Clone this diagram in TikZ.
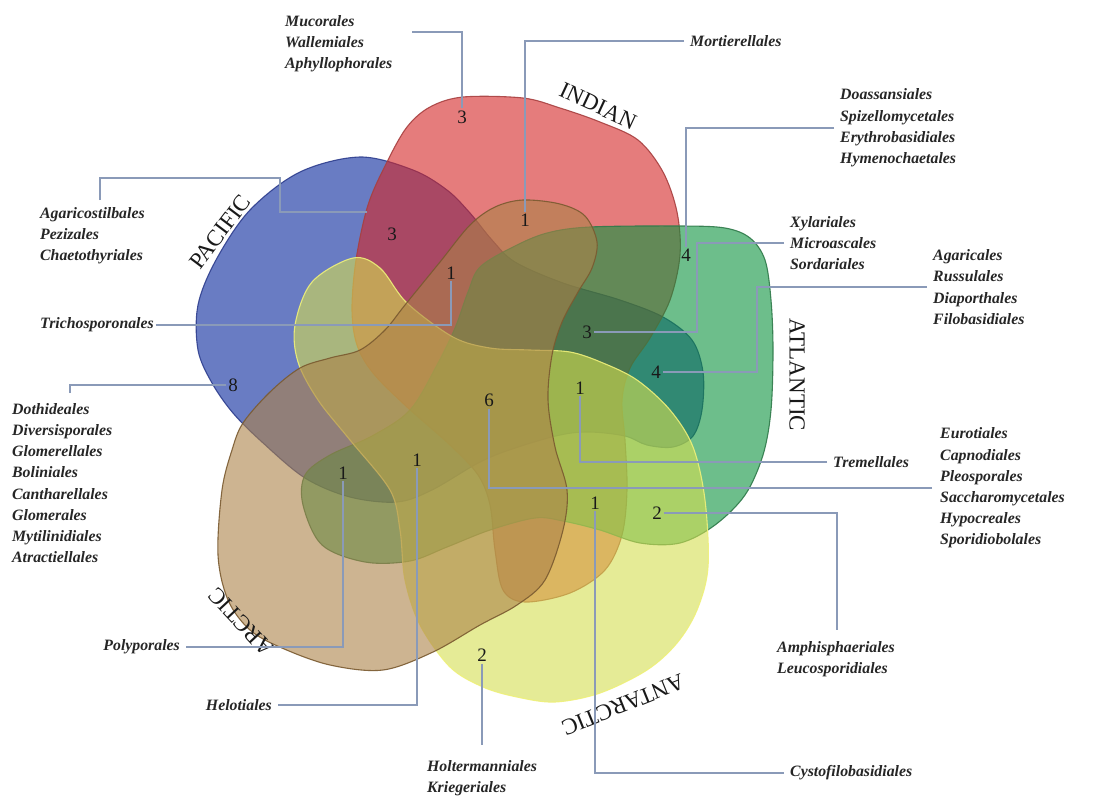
\documentclass[tikz,border=0pt]{standalone}
\usepackage{fontspec}
\setmainfont{Liberation Serif}
\definecolor{pacF}{HTML}{05269B}
\definecolor{pacD}{HTML}{2E3E8E}
\definecolor{indF}{HTML}{D52626}
\definecolor{indD}{HTML}{A84040}
\definecolor{atlF}{HTML}{0D933F}
\definecolor{atlD}{HTML}{2F7A4A}
\definecolor{antF}{HTML}{D5DE50}
\definecolor{antD}{HTML}{EEF07A}
\definecolor{arcF}{HTML}{AC8248}
\definecolor{arcD}{HTML}{7A5A30}
\definecolor{leadc}{HTML}{8A9AB8}
\begin{document}
\begin{tikzpicture}[x=1pt,y=-1pt,
  setshape/.style={fill opacity=0.6, draw opacity=0.9, line width=1.1pt},
  leader/.style={draw=leadc, line width=1.2pt},
  taxa/.style={font=\fontsize{15.8}{21.2}\selectfont\bfseries\itshape, align=left, inner sep=0pt, text=black!85},
  num/.style={font=\fontsize{19}{19}\selectfont, inner sep=2pt, text=black!90},
  ocean/.style={font=\fontsize{23}{23}\selectfont, inner sep=0pt, text=black!90}
]
\useasboundingbox (0,0) rectangle (1107,796);
\fill[white] (0,0) rectangle (1107,796);

% PACIFIC
\draw[setshape, fill=pacF, draw=pacD] plot[smooth cycle, tension=0.55] coordinates {
(360,157) (413,170) (447,190) (470,213) (492,240) (515,262) (563,283) (620,300) (663,317) (692,340) (703,372) (702,410) (693,436) (673,447) (647,445) (625,436) (590,432) (560,435) (515,448) (480,462) (432,490) (397,502) (350,497) (305,478) (262,442) (233,413) (212,383) (198,350) (198,305) (216,260) (250,210) (300,172)};
% INDIAN
\draw[setshape, fill=indF, draw=indD] plot[smooth cycle, tension=0.55] coordinates {
(463,97) (523,98) (560,108) (600,122) (638,140) (663,172) (677,212) (680,255) (670,300) (650,338) (630,368) (622,400) (625,440) (627,490) (622,535) (605,570) (570,593) (525,602) (503,590) (495,550) (490,505) (478,475) (450,445) (407,407) (373,373) (357,345) (352,310) (356,260) (368,205) (387,162) (407,127) (430,107)};
% ATLANTIC
\draw[setshape, fill=atlF, draw=atlD] plot[smooth cycle, tension=0.55] coordinates {
(480,267) (513,247) (547,233) (590,227) (680,226) (725,228) (750,238) (765,260) (771,300) (773,350) (771,410) (763,455) (745,495) (715,525) (680,543) (640,543) (600,530) (563,521) (535,518) (490,530) (447,547) (410,561) (365,562) (322,545) (303,505) (305,475) (330,455) (372,436) (410,410) (437,365) (455,328) (468,292)};
% ANTARCTIC
\draw[setshape, fill=antF, draw=antD] plot[smooth cycle, tension=0.55] coordinates {
(353,258) (380,268) (407,303) (453,337) (490,348) (530,350) (570,352) (603,363) (637,380) (670,410) (693,447) (705,500) (708,567) (697,610) (677,643) (647,670) (600,693) (555,702) (517,697) (483,687) (450,667) (420,625) (405,580) (400,530) (390,490) (350,440) (318,400) (298,362) (295,325) (312,282)};
% ARCTIC
\draw[setshape, fill=arcF, draw=arcD] plot[smooth cycle, tension=0.55] coordinates {
(243,423) (270,392) (300,368) (330,358) (360,350) (385,330) (405,305) (440,262) (470,225) (495,207) (523,200) (560,204) (585,216) (597,242) (592,268) (578,292) (562,322) (552,355) (548,400) (555,447) (567,490) (563,530) (545,580) (517,605) (480,625) (433,652) (383,670) (330,665) (282,648) (250,630) (228,600) (218,555) (222,490) (232,450)};

% set labels
\node[ocean, rotate=53] (lPac) at (220,232) {PACIFIC};
\node[ocean, rotate=-25] (lInd) at (598,106) {INDIAN};
\node[ocean, rotate=-90] (lAtl) at (797,375) {ATLANTIC};
\node[ocean, rotate=202] (lAnt) at (623,705) {ANTARCTIC};
\node[ocean, rotate=133] (lArc) at (241,622) {ARCTIC};

% numbers
\node[num] (nA) at (462,117) {3};
\node[num] (nB) at (525,220) {1};
\node[num] (nC) at (392,234) {3};
\node[num] (nD) at (451,273) {1};
\node[num] (nE) at (686,255) {4};
\node[num] (nF) at (587,332) {3};
\node[num] (nG) at (656,372) {4};
\node[num] (nH) at (580,388) {1};
\node[num] (nI) at (489,400) {6};
\node[num] (nJ) at (233,385) {8};
\node[num] (nK) at (343,473) {1};
\node[num] (nL) at (417,460) {1};
\node[num] (nM) at (595,503) {1};
\node[num] (nN) at (657,513) {2};
\node[num] (nO) at (482,655) {2};

% taxa texts
\node[taxa, anchor=west] (tMuc) at (285,44) {Mucorales\\Wallemiales\\Aphyllophorales};
\node[taxa, anchor=west] (tMort) at (690,41) {Mortierellales};
\node[taxa, anchor=west] (tDoa) at (840,128) {Doassansiales\\Spizellomycetales\\Erythrobasidiales\\Hymenochaetales};
\node[taxa, anchor=west] (tXyl) at (790,243) {Xylariales\\Microascales\\Sordariales};
\node[taxa, anchor=west] (tAga) at (933,287) {Agaricales\\Russulales\\Diaporthales\\Filobasidiales};
\node[taxa, anchor=west] (tTrem) at (833,462) {Tremellales};
\node[taxa, anchor=west] (tEuro) at (940,488) {Eurotiales\\Capnodiales\\Pleosporales\\Saccharomycetales\\Hypocreales\\Sporidiobolales};
\node[taxa, anchor=west] (tAmph) at (777,659) {Amphisphaeriales\\Leucosporidiales};
\node[taxa, anchor=west] (tCyst) at (790,773) {Cystofilobasidiales};
\node[taxa, anchor=west] (tHolt) at (427,778) {Holtermanniales\\Kriegeriales};
\node[taxa, anchor=east] (tHelo) at (272,705) {Helotiales};
\node[taxa, anchor=east] (tPoly) at (180,647) {Polyporales};
\node[taxa, anchor=west] (tDoth) at (12,483) {Dothideales\\Diversisporales\\Glomerellales\\Boliniales\\Cantharellales\\Glomerales\\Mytilinidiales\\Atractiellales};
\node[taxa, anchor=west] (tTrich) at (40,325) {Trichosporonales};
\node[taxa, anchor=west] (tAgac) at (40,236) {Agaricostilbales\\Pezizales\\Chaetothyriales};

% leader coordinates
\coordinate (cMuc) at (412,32);
\coordinate (cXyl) at (697,243);
\coordinate (cAga) at (757,287);
\coordinate (cAmph) at (837,630);
\coordinate (cHolt) at (482,745);
\coordinate (cDoth) at (70,393);
\coordinate (cAg1) at (100,200);
\coordinate (cAg2) at (280,178);
\coordinate (cAg3) at (367,212);

% leaders
\draw[leader] (cMuc) -| (nA.north);
\draw[leader] ([xshift=-6pt]tMort.west) -| (nB.north);
\draw[leader] ([xshift=-6pt]tDoa.west) -| (nE.north);
\draw[leader] ([xshift=-6pt]tXyl.west) -- (cXyl) |- (nF.east);
\draw[leader] ([xshift=-6pt]tAga.west) -- (cAga) |- (nG.east);
\draw[leader] ([xshift=-6pt]tTrem.west) -| (nH.south);
\draw[leader] ([xshift=-8pt]tEuro.west) -| (nI.south);
\draw[leader] (nN.east) -| (cAmph);
\draw[leader] (nM.south) |- ([xshift=-6pt]tCyst.west);
\draw[leader] (nO.south) -- (cHolt);
\draw[leader] (nL.south) |- ([xshift=6pt]tHelo.east);
\draw[leader] (nK.south) |- ([xshift=6pt]tPoly.east);
\draw[leader] (cDoth) |- (nJ.west);
\draw[leader] ([xshift=2pt]tTrich.east) -| (nD.south);
\draw[leader] (cAg1) |- (cAg2) |- (cAg3);
\end{tikzpicture}
\end{document}
